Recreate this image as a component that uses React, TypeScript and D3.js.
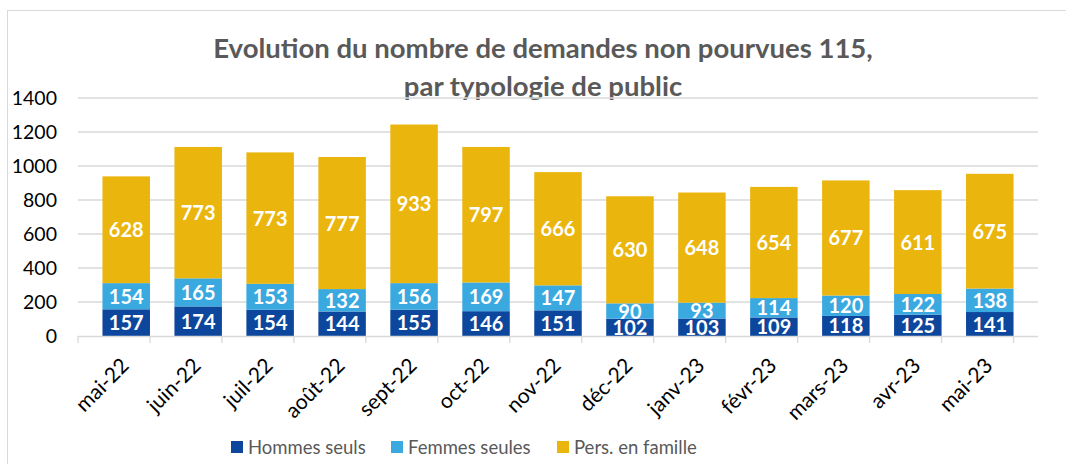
import { useRef, useEffect } from "react";
import * as d3 from "d3";

const months = [
  "mai-22", "juin-22", "juil-22", "août-22", "sept-22", "oct-22", "nov-22",
  "déc-22", "janv-23", "févr-23", "mars-23", "avr-23", "mai-23",
];
const hommes = [157, 174, 154, 144, 155, 146, 151, 102, 103, 109, 118, 125, 141];
const femmes = [154, 165, 153, 132, 156, 169, 147, 90, 93, 114, 120, 122, 138];
const famille = [628, 773, 773, 777, 933, 797, 666, 630, 648, 654, 677, 611, 675];
const seriesNames = ["Hommes seuls", "Femmes seules", "Pers. en famille"];
const colors = ["#0d479d", "#3aa9e0", "#eab50d"];
const yTicks = [0, 200, 400, 600, 800, 1000, 1200, 1400];

const W = 1066;
const H = 464;
const FONT = "Lato, 'Open Sans', sans-serif";

export default function App() {
  const svgRef = useRef<SVGSVGElement>(null);

  useEffect(() => {
    const svg = d3.select(svgRef.current);
    svg.selectAll("*").remove();

    const x = d3.scaleBand<string>().domain(months).range([78, 1038]).padding(0.34);
    const y = d3.scaleLinear().domain([0, 1400]).range([336, 98]);

    // chart frame
    svg.append("rect")
      .attr("x", 7.5).attr("y", 10.5)
      .attr("width", W + 20).attr("height", H + 20)
      .attr("fill", "#fff").attr("stroke", "#d9d9d9");

    // title
    const title = svg.append("text")
      .attr("text-anchor", "middle")
      .attr("font-family", FONT).attr("font-weight", "bold")
      .attr("font-size", 27.5).attr("fill", "#595959");
    title.append("tspan").attr("x", 543).attr("y", 58).text("Evolution du nombre de demandes non pourvues 115,");
    title.append("tspan").attr("x", 543).attr("y", 96).text("par typologie de public");

    // grid + y labels
    svg.append("g").selectAll("line").data(yTicks.slice(1)).join("line")
      .attr("x1", 78).attr("x2", 1038)
      .attr("y1", (d) => y(d)).attr("y2", (d) => y(d))
      .attr("stroke", "#d9d9d9").attr("stroke-width", 1.3);
    svg.append("g").selectAll("text").data(yTicks).join("text")
      .attr("x", 57).attr("y", (d) => y(d) + 7)
      .attr("text-anchor", "end")
      .attr("font-family", FONT).attr("font-size", 19.5).attr("fill", "#000")
      .text((d) => d);

    // stacked bars
    const rows = months.map((m, i) => ({ m, h: hommes[i], f: femmes[i], p: famille[i] }));
    const stack = d3.stack<any>().keys(["h", "f", "p"])(rows);
    const g = svg.append("g");
    stack.forEach((layer, li) => {
      g.append("g").selectAll("rect").data(layer).join("rect")
        .attr("x", (d) => x(d.data.m)!)
        .attr("width", x.bandwidth())
        .attr("y", (d) => y(d[1]))
        .attr("height", (d) => y(d[0]) - y(d[1]))
        .attr("fill", colors[li]);
    });
    // value labels, drawn after all bars
    stack.forEach((layer) => {
      g.append("g").selectAll("text").data(layer).join("text")
        .attr("x", (d) => x(d.data.m)! + x.bandwidth() / 2)
        .attr("y", (d) => (y(d[0]) + y(d[1])) / 2 + 7.5)
        .attr("text-anchor", "middle")
        .attr("font-family", FONT).attr("font-weight", "bold")
        .attr("font-size", 20).attr("fill", "#fff")
        .text((d) => d[1] - d[0]);
    });

    // x axis
    const step = x.step();
    const ax = svg.append("g");
    ax.append("line").attr("x1", 78).attr("x2", 1038).attr("y1", 336.5).attr("y2", 336.5)
      .attr("stroke", "#d9d9d9").attr("stroke-width", 1.3);
    ax.selectAll("line.tick").data(d3.range(months.length + 1)).join("line")
      .attr("class", "tick")
      .attr("x1", (i) => 78 + i * step).attr("x2", (i) => 78 + i * step)
      .attr("y1", 336).attr("y2", 343)
      .attr("stroke", "#d9d9d9").attr("stroke-width", 1.3);
    ax.selectAll("text").data(months).join("text")
      .attr("transform", (d) => `translate(${x(d)! + x.bandwidth() / 2 + 4},${367}) rotate(-45)`)
      .attr("text-anchor", "end")
      .attr("font-family", FONT).attr("font-size", 21).attr("fill", "#000")
      .text((d) => d);

    // legend
    const legX = [231, 391, 557];
    const leg = svg.append("g");
    seriesNames.forEach((name, i) => {
      leg.append("rect").attr("x", legX[i]).attr("y", 441)
        .attr("width", 12).attr("height", 12).attr("fill", colors[i]);
      leg.append("text").attr("x", legX[i] + 17).attr("y", 454)
        .attr("font-family", FONT).attr("font-size", 18.5).attr("fill", "#595959")
        .text(name);
    });
  }, []);

  return (
    <svg
      ref={svgRef}
      width={W}
      height={H}
      style={{ position: "absolute", left: 0, top: 0, display: "block" }}
    />
  );
}
